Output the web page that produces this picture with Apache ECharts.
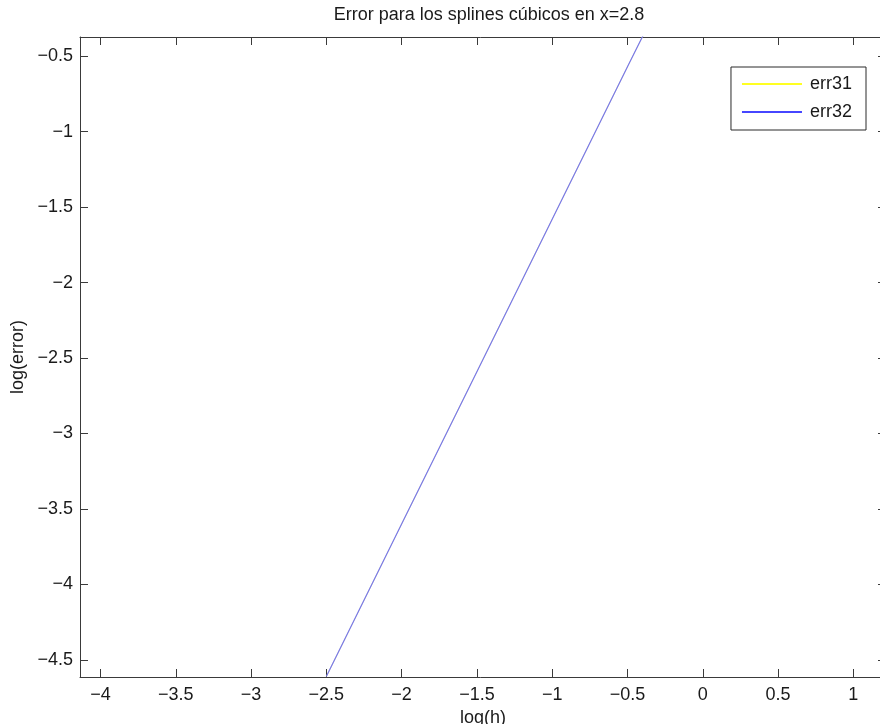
<!DOCTYPE html>
<html>
<head>
<meta charset="utf-8">
<script src="https://cdn.jsdelivr.net/npm/echarts@6/dist/echarts.min.js"></script>
<style>
  html, body { margin: 0; padding: 0; background: #fff; }
  #chart { width: 880px; height: 724px; }
</style>
</head>
<body>
<div id="chart"></div>
<script>
// log(h) sample points and log(error) of both cubic spline variants
const logH = [-2.5, -2.0, -1.5, -1.0, -0.5, -0.2];
const err31 = [-4.61, -3.60, -2.59, -1.58, -0.57, 0.03];
const err32 = [-4.61, -3.60, -2.59, -1.58, -0.57, 0.03];

const xTicks = [-4, -3.5, -3, -2.5, -2, -1.5, -1, -0.5, 0, 0.5, 1];
const yTicks = [-4.5, -4, -3.5, -3, -2.5, -2, -1.5, -1, -0.5];

const FONT = '"Liberation Sans", Arial, sans-serif';
const FS = 18;
const TXT = '#1a1a1a';
const minus = v => String(v).replace('-', '\u2212');

const pairs = ys => logH.map((x, i) => [x, ys[i]]);

const frameLine = { show: true, onZero: false, lineStyle: { color: '#3a3a3a', width: 1 } };
const innerTick = (vals) => ({
  show: true, inside: true, length: 8, customValues: vals,
  lineStyle: { color: '#3a3a3a', width: 1 }
});

const chart = echarts.init(document.getElementById('chart'), null, { renderer: 'canvas' });
chart.setOption({
  animation: false,
  backgroundColor: '#ffffff',
  textStyle: { fontFamily: FONT },
  title: {
    text: 'Error para los splines cúbicos en x=2.8',
    left: 484, top: 1, textAlign: 'center',
    textStyle: { fontFamily: FONT, fontSize: FS, fontWeight: 'normal', color: TXT }
  },
  grid: {
    left: 80, right: -6, top: 37, bottom: 47,
    containLabel: false, outerBoundsMode: 'none'
  },
  legend: {
    orient: 'vertical',
    right: 14, top: 67,
    padding: [8, 14, 9, 11],
    itemGap: 10,
    itemWidth: 60, itemHeight: 18,
    borderColor: '#2a2a2a', borderWidth: 1,
    backgroundColor: '#ffffff',
    textStyle: { fontFamily: FONT, fontSize: FS, color: TXT, padding: [0, 0, 0, 3] },
    data: [
      { name: 'err31', icon: 'path://M0,0L100,0L100,3L0,3Z', itemStyle: { color: '#ffff22' } },
      { name: 'err32', icon: 'path://M0,0L100,0L100,3L0,3Z', itemStyle: { color: '#4646ff' } }
    ]
  },
  xAxis: [
    {
      type: 'value', position: 'bottom', min: -4.136, max: 1.217,
      axisLine: frameLine, axisTick: innerTick(xTicks), splitLine: { show: false },
      axisLabel: {
        customValues: xTicks, margin: 9, formatter: minus,
        fontFamily: FONT, fontSize: FS, color: TXT
      },
      name: 'log(h)', nameLocation: 'middle', nameGap: 24,
      nameTextStyle: { fontFamily: FONT, fontSize: FS, color: TXT }
    },
    {
      type: 'value', position: 'top', min: -4.136, max: 1.217,
      axisLine: frameLine, axisTick: innerTick(xTicks),
      axisLabel: { show: false }, splitLine: { show: false }
    }
  ],
  yAxis: [
    {
      type: 'value', position: 'left', min: -4.613, max: -0.373,
      axisLine: frameLine, axisTick: innerTick(yTicks), splitLine: { show: false },
      axisLabel: {
        customValues: yTicks, margin: 7, formatter: minus,
        fontFamily: FONT, fontSize: FS, color: TXT
      },
      name: 'log(error)', nameLocation: 'middle', nameGap: 49, nameRotate: 90,
      nameTextStyle: { fontFamily: FONT, fontSize: FS, color: TXT }
    },
    {
      type: 'value', position: 'right', min: -4.613, max: -0.373,
      axisLine: frameLine, axisTick: innerTick(yTicks),
      axisLabel: { show: false }, splitLine: { show: false }
    }
  ],
  series: [
    {
      name: 'err31', type: 'line', data: pairs(err31),
      xAxisIndex: 0, yAxisIndex: 0, z: 1,
      showSymbol: false, symbol: 'none', clip: true,
      lineStyle: { color: '#ffff22', width: 0.5 }, itemStyle: { color: '#ffff22' }
    },
    {
      name: 'err32', type: 'line', data: pairs(err32),
      xAxisIndex: 0, yAxisIndex: 0, z: 2,
      showSymbol: false, symbol: 'none', clip: true,
      lineStyle: { color: '#7777ee', width: 1.2 }, itemStyle: { color: '#4646ff' }
    }
  ]
});
</script>
</body>
</html>
